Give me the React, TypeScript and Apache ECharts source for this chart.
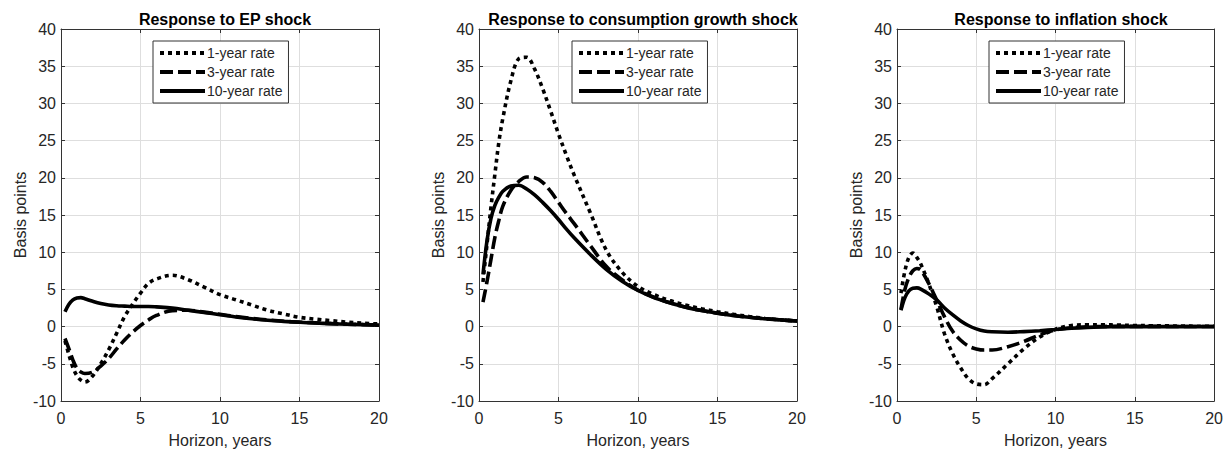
import React, { useEffect, useRef } from "react";
import * as echarts from "echarts";

const horizon = [0.25, 0.5, 0.75, 1, 1.25, 1.5, 2, 2.5, 3, 3.5, 4, 4.5, 5, 5.5, 6, 7, 8, 9, 10, 11, 12, 13, 14, 15, 16, 17, 18, 19, 20];

const panelTitles = ["Response to EP shock", "Response to consumption growth shock", "Response to inflation shock"];
const seriesNames = ["1-year rate", "3-year rate", "10-year rate"];

const epOneYear = [-1.9, -3.8, -5.5, -6.6, -7.2, -7.45, -6.6, -5.0, -3.1, -0.9, 1.35, 3.0, 4.5, 5.8, 6.4, 6.9, 6.3, 5.3, 4.3, 3.6, 2.9, 2.2, 1.7, 1.25, 1.0, 0.8, 0.6, 0.45, 0.35];
const epThreeYear = [-1.6, -3.0, -4.5, -5.6, -6.1, -6.3, -6.1, -5.3, -4.3, -3.0, -1.8, -0.75, 0.15, 0.9, 1.5, 2.15, 2.2, 1.95, 1.65, 1.35, 1.1, 0.9, 0.72, 0.6, 0.5, 0.4, 0.33, 0.27, 0.22];
const epTenYear = [2.0, 3.0, 3.6, 3.85, 3.9, 3.75, 3.4, 3.1, 2.9, 2.8, 2.75, 2.7, 2.7, 2.7, 2.65, 2.5, 2.2, 1.9, 1.6, 1.3, 1.05, 0.85, 0.7, 0.58, 0.48, 0.4, 0.32, 0.26, 0.2];

const cgOneYear = [6, 11, 16, 20.5, 24.8, 28, 33, 36, 36.2, 34.6, 32, 29, 25.9, 23, 20.3, 15.3, 10.3, 7.3, 5.4, 4.3, 3.5, 2.9, 2.4, 2.0, 1.65, 1.35, 1.1, 0.9, 0.75];
const cgThreeYear = [3.3, 6, 9, 12, 14.3, 16.2, 18.3, 19.5, 20.1, 20.0, 19.4, 18.2, 16.7, 15.2, 13.8, 10.9, 8.1, 6.3, 4.9, 3.95, 3.2, 2.6, 2.15, 1.8, 1.5, 1.25, 1.05, 0.9, 0.75];
const cgTenYear = [7, 11.5, 14.5, 16.3, 17.4, 18.2, 18.9, 19.0, 18.5, 17.7, 16.7, 15.6, 14.4, 13.1, 11.9, 9.7, 7.7, 6.1, 4.85, 3.9, 3.2, 2.6, 2.15, 1.8, 1.5, 1.25, 1.05, 0.9, 0.75];

const infOneYear = [4.5, 7.5, 9.3, 9.9, 9.3, 8.4, 5.8, 2.7, -1.0, -3.6, -5.5, -7.0, -7.7, -7.8, -7.0, -5.0, -3.0, -1.4, -0.35, 0.15, 0.25, 0.25, 0.2, 0.15, 0.12, 0.1, 0.07, 0.05, 0.04];
const infThreeYear = [2.3, 5.0, 6.6, 7.5, 7.8, 7.6, 5.8, 3.6, 1.3, -0.6, -1.8, -2.6, -3.0, -3.15, -3.15, -2.7, -2.0, -1.1, -0.45, -0.15, -0.02, 0.02, 0.03, 0.03, 0.03, 0.02, 0.02, 0.02, 0.02];
const infTenYear = [2.2, 3.9, 4.8, 5.15, 5.2, 5.05, 4.4, 3.6, 2.5, 1.6, 0.8, 0.15, -0.3, -0.6, -0.7, -0.75, -0.67, -0.55, -0.4, -0.22, -0.1, -0.04, -0.01, 0, 0, 0, 0, 0, 0];

const panelData = [
  [epOneYear, epThreeYear, epTenYear],
  [cgOneYear, cgThreeYear, cgTenYear],
  [infOneYear, infThreeYear, infTenYear],
];

const gridLefts = [61, 479, 897];
const gridTop = 29;
const gridWidth = 318;
const gridHeight = 372;
const legendLefts = [153, 572, 989];

const FONT = "Liberation Sans, Arial, sans-serif";
const TEXT = "#262626";
const AXIS = "#333333";

const lineTypes: any[] = [[4, 4], [13, 5], "solid"];

export default function App() {
  const ref = useRef<HTMLDivElement>(null);
  useEffect(() => {
    if (!ref.current) return;
    const chart = echarts.init(ref.current, undefined, { renderer: "svg" });
    const grids: any[] = [];
    const xAxes: any[] = [];
    const yAxes: any[] = [];
    const series: any[] = [];
    const titles: any[] = [];
    const legends: any[] = [];
    for (let p = 0; p < 3; p++) {
      grids.push({ left: gridLefts[p], top: gridTop, width: gridWidth, height: gridHeight, containLabel: false });
      titles.push({
        text: panelTitles[p],
        left: gridLefts[p] + gridWidth / 2,
        top: 6,
        textAlign: "center",
        textStyle: { fontFamily: FONT, fontSize: 16, fontWeight: "bold", color: "#000" },
      });
      xAxes.push({
        type: "value", gridIndex: p, min: 0, max: 20, interval: 5, position: "bottom",
        name: "Horizon, years", nameLocation: "middle", nameGap: 31,
        nameTextStyle: { fontFamily: FONT, fontSize: 16, color: TEXT },
        axisLine: { show: true, onZero: false, lineStyle: { color: AXIS, width: 1 } },
        axisTick: { show: true, inside: true, length: 4, lineStyle: { color: AXIS } },
        axisLabel: { fontFamily: FONT, fontSize: 16, color: TEXT, margin: 9 },
        splitLine: { show: true, lineStyle: { color: "#dedede", width: 1 } },
      });
      xAxes.push({
        type: "value", gridIndex: p, min: 0, max: 20, interval: 5, position: "top",
        axisLine: { show: true, onZero: false, lineStyle: { color: AXIS, width: 1 } },
        axisTick: { show: true, inside: true, length: 4, lineStyle: { color: AXIS } },
        axisLabel: { show: false }, splitLine: { show: false },
      });
      yAxes.push({
        type: "value", gridIndex: p, min: -10, max: 40, interval: 5, position: "left",
        name: "Basis points", nameLocation: "middle", nameGap: 29, nameRotate: 90,
        nameTextStyle: { fontFamily: FONT, fontSize: 16, color: TEXT },
        axisLine: { show: true, onZero: false, lineStyle: { color: AXIS, width: 1 } },
        axisTick: { show: true, inside: true, length: 4, lineStyle: { color: AXIS } },
        axisLabel: { fontFamily: FONT, fontSize: 16, color: TEXT, margin: 5 },
        splitLine: { show: true, lineStyle: { color: "#dedede", width: 1 } },
      });
      yAxes.push({
        type: "value", gridIndex: p, min: -10, max: 40, interval: 5, position: "right",
        axisLine: { show: true, onZero: false, lineStyle: { color: AXIS, width: 1 } },
        axisTick: { show: true, inside: true, length: 4, lineStyle: { color: AXIS } },
        axisLabel: { show: false }, splitLine: { show: false },
      });
      for (let s = 0; s < 3; s++) {
        series.push({
          type: "line",
          name: seriesNames[s],
          xAxisIndex: p * 2,
          yAxisIndex: p * 2,
          data: horizon.map((h, i) => [h, panelData[p][s][i]]),
          smooth: 0.35,
          symbol: "none",
          showSymbol: false,
          z: 3 + (2 - s),
          lineStyle: { color: "#000", width: 3.6, type: lineTypes[s], cap: "butt" },
          itemStyle: { color: "#000" },
        });
      }
      legends.push({
        data: seriesNames,
        orient: "vertical",
        left: legendLefts[p],
        top: 41,
        padding: [5, 6, 5, 5],
        itemGap: 5,
        itemWidth: 45,
        itemHeight: 14,
        borderColor: "#333",
        borderWidth: 1,
        backgroundColor: "#fff",
        selectedMode: false,
        itemStyle: { color: "transparent", borderWidth: 0, opacity: 0 },
        lineStyle: { width: 4, color: "#000" },
        textStyle: { fontFamily: FONT, fontSize: 14, color: TEXT, padding: [0, 0, 0, -3] },
      });
    }
    chart.setOption({
      animation: false,
      backgroundColor: "#fff",
      title: titles,
      grid: grids,
      xAxis: xAxes,
      yAxis: yAxes,
      legend: legends,
      series,
    });
    return () => chart.dispose();
  }, []);
  return <div ref={ref} style={{ position: "fixed", left: 0, top: 0, width: 1226, height: 453 }} />;
}
